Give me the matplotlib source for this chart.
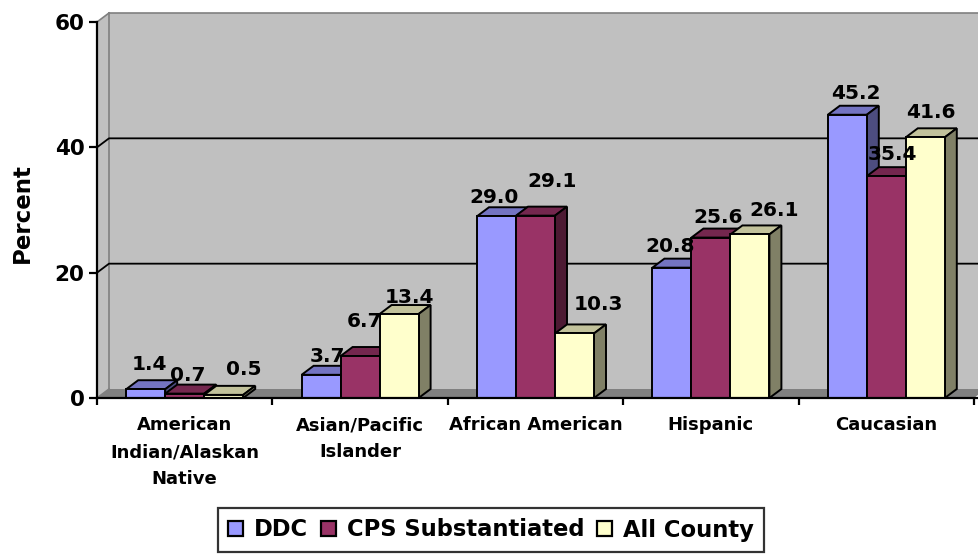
import numpy as np
import matplotlib
matplotlib.use('Agg')
import matplotlib.pyplot as plt
from matplotlib.patches import Polygon, Patch
from matplotlib.ticker import FixedLocator

plt.rcParams['font.family'] = ['DejaVu Sans']
plt.rcParams['font.weight'] = 'bold'

categories = ['American\nIndian/Alaskan\nNative', 'Asian/Pacific\nIslander',
              'African American', 'Hispanic', 'Caucasian']
series_names = ['DDC', 'CPS Substantiated', 'All County']
ddc = [1.4, 3.7, 29.0, 20.8, 45.2]
cps = [0.7, 6.7, 29.1, 25.6, 35.4]
county = [0.5, 13.4, 10.3, 26.1, 41.6]
yticks = [0, 20, 40, 60]

front_colors = ['#9999FF', '#993366', '#FFFFCC']

# hand nudges (pixels, right/down) so neighbouring value labels don't collide
label_nudge = [
    [(-2, -4), (0, 2), (-8.5, 2), (-8, 0), (3, 0)],
    [(-3, 3), (-2, -14), (10.5, -13.5), (1, 1), (0, -1)],
    [(14, -5), (4.5, 4), (17.5, -8.5), (18, -3), (0, -4)],
]

def shade(hexcol, f):
    rgb = np.array(matplotlib.colors.to_rgb(hexcol))
    return tuple(rgb * f)

fig = plt.figure(figsize=(9.79, 5.55), dpi=100)
W, H = 979, 555
ax = fig.add_axes([97 / W, (H - 398) / H, 877 / W, 376 / H])
ax.set_xlim(-0.5, 4.5)
ax.set_ylim(0, 60)
ax.patch.set_visible(False)

# depth of the fake 3d box, in data units
px_x = 877 / 5.0
px_y = 376 / 60.0
ddx = 12 / px_x
ddy = 9 / px_y
x0, x1 = -0.5, 4.5
ymax = 60

def poly(pts, fc, ec='none', lw=0, z=0):
    p = Polygon(pts, closed=True, facecolor=fc, edgecolor=ec, linewidth=lw,
                zorder=z, clip_on=False, joinstyle='miter')
    ax.add_patch(p)

# walls and floor
poly([(x0 + ddx, ddy), (x1 + ddx, ddy), (x1 + ddx, ymax + ddy), (x0 + ddx, ymax + ddy)],
     '#C0C0C0', z=0)
poly([(x0, 0), (x0 + ddx, ddy), (x0 + ddx, ymax + ddy), (x0, ymax)], '#C0C0C0', z=0)
poly([(x0, 0), (x1, 0), (x1 + ddx, ddy), (x0 + ddx, ddy)], '#808080', z=0.5)

gray = '#808080'
ax.plot([x0 + ddx, x0 + ddx], [ddy, ymax + ddy], color=gray, lw=1.2, zorder=0.6, clip_on=False)
ax.plot([x0 + ddx, x1 + ddx], [ymax + ddy, ymax + ddy], color=gray, lw=1.2, zorder=0.6, clip_on=False)
ax.plot([x0, x0 + ddx], [ymax, ymax + ddy], color=gray, lw=1.2, zorder=0.6, clip_on=False)
ax.plot([x0, x0 + ddx], [0, ddy], color=gray, lw=1.2, zorder=0.6, clip_on=False)

for v in yticks[1:-1]:
    ax.plot([x0, x0 + ddx, x1 + ddx], [v, v + ddy, v + ddy], color='black', lw=1.3,
            zorder=1, clip_on=False)

# bars
bw = 39 / px_x
values = [ddc, cps, county]
z = 2
for i in range(len(categories)):
    for s in range(3):
        v = values[s][i]
        left = i - 1.5 * bw + s * bw
        right = left + bw
        fc = front_colors[s]
        poly([(left, v), (right, v), (right + ddx, v + ddy), (left + ddx, v + ddy)],
             shade(fc, 0.76), 'black', 1.4, z)
        poly([(right, 0), (right + ddx, ddy), (right + ddx, v + ddy), (right, v)],
             shade(fc, 0.5), 'black', 1.4, z + 0.1)
        poly([(left, 0), (right, 0), (right, v), (left, v)], fc, 'black', 1.4, z + 0.2)
        nx, ny = label_nudge[s][i]
        ax.annotate('%.1f' % v, xy=(left + bw / 2 + ddx / 2, v + ddy),
                    xytext=(nx * 0.72, 4.5 - ny * 0.72), textcoords='offset points',
                    ha='center', va='baseline', fontsize=14.5, fontweight='bold',
                    zorder=50, annotation_clip=False)
        z += 1

# axes
for side in ['top', 'right']:
    ax.spines[side].set_visible(False)
for side in ['left', 'bottom']:
    ax.spines[side].set_linewidth(1.6)
    ax.spines[side].set_zorder(30)
ax.spines['bottom'].set_bounds(x0, x1 + ddx)

ax.set_yticks(yticks)
ax.set_yticklabels([str(t) for t in yticks], fontsize=15.5, fontweight='bold')
ax.tick_params(axis='y', direction='out', length=6, width=1.6, pad=3)

ax.set_xticks(range(len(categories)))
ax.set_xticklabels(categories, fontsize=13, fontweight='bold', linespacing=1.65)
ax.tick_params(axis='x', which='major', length=0, pad=13)
ax.xaxis.set_minor_locator(FixedLocator(np.arange(-0.5, 5.0, 1.0)))
ax.tick_params(axis='x', which='minor', direction='out', length=5, width=1.6)

fig.text(22 / W, 1 - 213 / H, 'Percent', rotation=90, ha='center', va='center',
         fontsize=16.5, fontweight='bold')

handles = [Patch(facecolor=c, edgecolor='black', linewidth=1.6) for c in front_colors]
leg = fig.legend(handles, series_names, loc='center', bbox_to_anchor=(491 / W, 1 - 530 / H),
                 ncol=3, frameon=True, fancybox=False, edgecolor='black',
                 prop={'size': 16.3, 'weight': 'bold'}, handlelength=0.65,
                 handleheight=0.65, handletextpad=0.49, columnspacing=0.57,
                 borderpad=0.45, borderaxespad=0)
leg.get_frame().set_linewidth(1.6)

fig.savefig('out.png', dpi=100)
